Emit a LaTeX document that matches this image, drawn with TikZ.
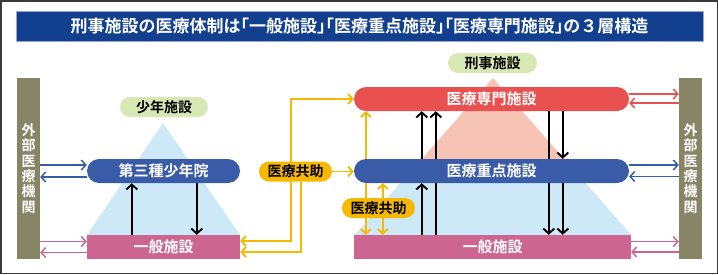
\documentclass[tikz,border=0pt]{standalone}
\usepackage{fontspec}
\setmainfont{Noto Sans CJK JP}[BoldFont={Noto Sans CJK JP Bold}]
\usetikzlibrary{arrows.meta,calc}
\definecolor{titleblue}{HTML}{12408E}
\definecolor{pblue}{HTML}{3A5CA8}
\definecolor{pred}{HTML}{E8514F}
\definecolor{ppink}{HTML}{CC6690}
\definecolor{tblue}{HTML}{CDE8F6}
\definecolor{tpink}{HTML}{F6C3B4}
\definecolor{pgreen}{HTML}{D8E8B4}
\definecolor{extc}{HTML}{888466}
\definecolor{pyel}{HTML}{F6B800}
\definecolor{framec}{HTML}{3A3A3A}
\pgfdeclarelayer{tri}
\pgfdeclarelayer{lines}
\pgfsetlayers{tri,lines,main}
\tikzset{
  pill/.style={rectangle, rounded corners=12pt, minimum height=24pt, inner sep=0pt,
    text=white, font=\bfseries\fontsize{15}{16}\selectfont},
  flatbox/.style={rectangle, minimum height=24pt, inner sep=0pt, fill=ppink,
    text=white, font=\bfseries\fontsize{15}{16}\selectfont},
  tag/.style={rectangle, rounded corners=10pt, minimum height=20pt, inner sep=0pt,
    text=black, font=\bfseries\fontsize{14}{15}\selectfont},
  extbar/.style={rectangle, fill=extc, minimum width=23pt, minimum height=181pt, inner sep=0pt,
    text=white, align=center, font=\bfseries\fontsize{14}{15.4}\selectfont},
  onetip/.style={-{Straight Barb[length=4.5pt,width=10pt]}},
  twotips/.style={{Straight Barb[length=4.5pt,width=10pt]}-{Straight Barb[length=4.5pt,width=10pt]}},
  cline/.style={line width=1.5pt},
  bline/.style={line width=1.9pt, black, -{Straight Barb[length=5pt,width=11pt]}},
  yline/.style={line width=1.9pt, pyel},
}
\begin{document}
\begin{tikzpicture}[x=1pt,y=-1pt]
\useasboundingbox (0,0) rectangle (718,274);
\draw[framec, line width=1.5pt] (0.75,0.75) rectangle (717.25,273.25);

% title
\node[rectangle, fill=titleblue, draw=titleblue!45, line width=0.6pt, minimum width=687pt,
  minimum height=30pt, inner sep=0pt, text=white, font=\bfseries\fontsize{17}{18}\selectfont]
  (title) at (359.5,26)
  {刑事施設の医療体制は{\addfontfeature{RawFeature=+halt}「}一般施設{\addfontfeature{RawFeature=+halt}」「}医療重点施設{\addfontfeature{RawFeature=+halt}」「}医療専門施設{\addfontfeature{RawFeature=+halt}」}の３層構造};

% triangles
\begin{pgfonlayer}{tri}
\fill[tblue] (163,123) -- (87,235) -- (240,235) -- cycle;
\fill[tpink] (493,78) -- (355,235) -- (631,235) -- cycle;
\fill[tblue] (411.3,171) -- (574.7,171) -- (631,235) -- (355,235) -- cycle;
\end{pgfonlayer}

% external bars
\node[extbar] (extL) at (28.5,168.5) {外\\部\\医\\療\\機\\関};
\node[extbar] (extR) at (690.5,168.5) {外\\部\\医\\療\\機\\関};

% left group
\node[tag, fill=pgreen, minimum width=88pt] (shonen) at (164,107) {少年施設};
\node[pill, fill=pblue, minimum width=153pt] (dai3) at (163.5,171) {第三種少年院};
\node[flatbox, minimum width=153pt] (ippanL) at (163.5,247) {一般施設};

% right group
\node[tag, fill=pgreen, minimum width=89pt] (keiji) at (492.5,63) {刑事施設};
\node[pill, fill=pred, minimum width=275pt] (senmon) at (491.5,99) {医療専門施設};
\node[pill, fill=pblue, minimum width=275pt] (juten) at (491.5,171) {医療重点施設};
\node[flatbox, minimum width=277pt] (ippanR) at (492.5,247) {一般施設};

% cooperation tags
\node[tag, fill=pyel, minimum width=73pt] (kyojo1) at (295.5,171.5) {医療共助};
\node[tag, fill=pyel, minimum width=73pt] (kyojo2) at (378.5,208) {医療共助};

\begin{pgfonlayer}{lines}
% left external arrows
\draw[cline, pblue, onetip] ($(extL.east |- dai3.west)+(0,-6)$) -- ($(dai3.west)+(0,-6)$);
\draw[cline, pblue, onetip] ($(dai3.west)+(0,6)$) -- ($(extL.east |- dai3.west)+(0,6)$);
\draw[cline, ppink, onetip] ($(extL.east |- ippanL.west)+(0,-5.5)$) -- ($(ippanL.west)+(0,-5.5)$);
\draw[cline, ppink, onetip] ($(ippanL.west)+(0,5.5)$) -- ($(extL.east |- ippanL.west)+(0,5.5)$);
% right external arrows
\draw[cline, pred, onetip] ($(senmon.east)+(0,-5)$) -- ($(extR.west |- senmon.east)+(0,-5)$);
\draw[cline, pred, onetip] ($(extR.west |- senmon.east)+(0,4)$) -- ($(senmon.east)+(0,4)$);
\draw[cline, pblue, onetip] ($(juten.east)+(0,-6)$) -- ($(extR.west |- juten.east)+(0,-6)$);
\draw[cline, pblue, onetip] ($(extR.west |- juten.east)+(0,5.5)$) -- ($(juten.east)+(0,5.5)$);
\draw[cline, ppink, onetip] ($(ippanR.east)+(0,-5.5)$) -- ($(extR.west |- ippanR.east)+(0,-5.5)$);
\draw[cline, ppink, onetip] ($(extR.west |- ippanR.east)+(0,5)$) -- ($(ippanR.east)+(0,5)$);

% left black arrows
\draw[bline] ($(ippanL.north west)+(45,0)$) -- ($(dai3.south west)+(45,0)$);
\draw[bline] ($(dai3.south west)+(110,0)$) -- ($(ippanL.north west)+(110,0)$);

% right black arrows
\draw[bline] ($(ippanR.north west)+(68,0)$) -- ($(juten.south west)+(68,0)$);
\draw[bline] ($(juten.north west)+(68,0)$) -- ($(senmon.south west)+(68,0)$);
\draw[bline] ($(ippanR.north west)+(82,0)$) -- ($(senmon.south west)+(82,0)$);
\draw[bline] ($(senmon.south west)+(195,0)$) -- ($(ippanR.north west)+(195,0)$);
\draw[bline] ($(senmon.south west)+(209,0)$) -- ($(juten.north west)+(209,0)$);
\draw[bline] ($(juten.south west)+(209,0)$) -- ($(ippanR.north west)+(209,0)$);

% yellow cooperation lines
\draw[yline, twotips] ($(ippanL.east)+(0,-6)$) -- ++(51,0) |- (senmon.west);
\draw[yline, onetip] ($(kyojo1.south)+(5.5,0)$) |- ($(ippanL.east)+(0,5)$);
\draw[yline, onetip] (kyojo1.east) -- (kyojo1.east -| juten.west);
\draw[yline, twotips] ($(ippanR.north west)+(12,0)$) -- ($(senmon.south west)+(12,0)$);
\draw[yline, twotips] ($(ippanR.north west)+(29,0)$) -- ($(juten.south west)+(29,0)$);
\end{pgfonlayer}
\end{tikzpicture}
\end{document}
